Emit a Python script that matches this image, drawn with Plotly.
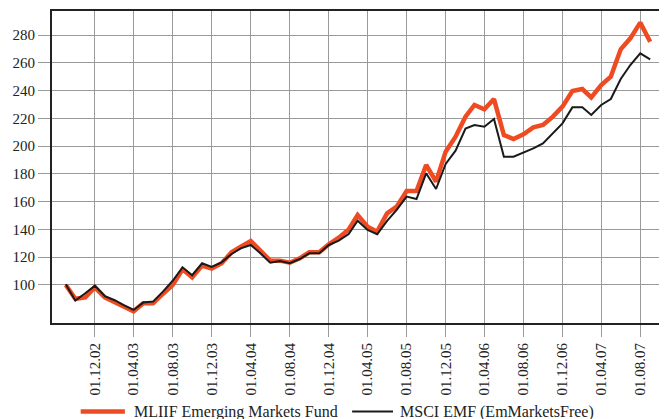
import pandas as pd
import plotly.graph_objects as go

# Monthly observations, Sep 2002 .. Sep 2007
dates = pd.date_range("2002-09-01", periods=61, freq="MS")

fund_name = "MLIIF Emerging Markets Fund"
index_name = "MSCI EMF (EmMarketsFree)"

fund_values = [
    100, 90, 91, 98.3, 91, 87.5, 84, 81, 86.8, 86.8,
    93.5, 100, 111.3, 105.5, 114, 111.8, 115.6, 123.5, 127.6, 131.7,
    124.7, 117.5, 117.5, 116, 119.2, 123.5, 123.5, 129.3, 134, 140,
    150.4, 142, 138.4, 151.6, 156.4, 167.7, 167.7, 186.4, 174.4, 196,
    206.8, 221.2, 229.6, 226.5, 233.9, 208, 205.1, 208.5, 213.5, 215.2,
    221.2, 228.4, 239.7, 241.1, 235.1, 244, 250, 269.7, 277.6, 288.9,
    275.2,
]

index_values = [
    100.5, 88.7, 94, 99.5, 92, 89, 85.5, 82, 87.3, 88,
    95, 103, 112.7, 107, 115.6, 113, 116.3, 122.3, 126.4, 128.8,
    122.8, 116, 117.3, 115.6, 118.7, 122.8, 122.8, 128.8, 131.9, 136.7,
    146.3, 139.6, 136.5, 146.1, 154, 163.6, 161.9, 180.4, 169.1, 187.1,
    196.7, 212.6, 215.2, 214, 219.5, 192.4, 192.4, 195.5, 198.4, 202,
    209.2, 216.4, 227.9, 227.9, 222.4, 229.6, 233.9, 248.3, 258.4, 266.8,
    262.5,
]

x_tick_dates = [
    "2002-12-01", "2003-04-01", "2003-08-01", "2003-12-01", "2004-04-01",
    "2004-08-01", "2004-12-01", "2005-04-01", "2005-08-01", "2005-12-01",
    "2006-04-01", "2006-08-01", "2006-12-01", "2007-04-01", "2007-08-01",
]
x_tick_labels = [
    "01.12.02", "01.04.03", "01.08.03", "01.12.03", "01.04.04",
    "01.08.04", "01.12.04", "01.04.05", "01.08.05", "01.12.05",
    "01.04.06", "01.08.06", "01.12.06", "01.04.07", "01.08.07",
]
y_ticks = [100, 120, 140, 160, 180, 200, 220, 240, 260, 280]

fund_color = "#EE4B22"
index_color = "#1a1a1a"
font_family = "Liberation Serif"
text_color = "#222"
grid_color = "#9a9a9a"

fig = go.Figure()
fig.add_trace(go.Scatter(
    x=dates, y=fund_values, name=fund_name, mode="lines",
    line=dict(color=fund_color, width=4.5), showlegend=False,
))
fig.add_trace(go.Scatter(
    x=dates, y=index_values, name=index_name, mode="lines",
    line=dict(color=index_color, width=2), showlegend=False,
))

# Legend drawn below the plot (line samples + labels)
legend_y = -0.284
legend_items = [
    (fund_name, fund_color, 4.5, 0.047, 0.1195, 0.1305),
    (index_name, index_color, 2, 0.492, 0.559, 0.567),
]
for label, color, width, x0, x1, xt in legend_items:
    fig.add_shape(type="line", xref="paper", yref="paper",
                  x0=x0, x1=x1, y0=legend_y, y1=legend_y,
                  line=dict(color=color, width=width))
    fig.add_annotation(xref="paper", yref="paper", x=xt, y=legend_y,
                       text=label, showarrow=False, xanchor="left",
                       yanchor="middle",
                       font=dict(family=font_family, size=16, color=text_color))

# The page body adds an 8px offset, so the figure is sized to compensate
fig.update_layout(
    width=659, height=411,
    margin=dict(l=44, r=5, t=3, b=96, autoexpand=False),
    paper_bgcolor="white", plot_bgcolor="white",
    font=dict(family=font_family, size=15, color=text_color),
    showlegend=False,
    xaxis=dict(
        type="date",
        range=["2002-07-20", "2007-10-08"],
        tickvals=x_tick_dates, ticktext=x_tick_labels,
        tickangle=-90, automargin=False,
        showgrid=True, gridcolor=grid_color, gridwidth=1,
        ticks="outside", ticklen=12, tickcolor=grid_color, tickwidth=1,
        showline=True, mirror=True, linecolor="#222", linewidth=2,
        zeroline=False,
        tickfont=dict(family=font_family, size=15, color=text_color),
    ),
    yaxis=dict(
        range=[72.6, 297.3],
        tickvals=y_ticks, automargin=False,
        showgrid=True, gridcolor=grid_color, gridwidth=1,
        ticks="outside", ticklen=12, tickcolor=grid_color, tickwidth=1,
        showline=True, mirror=True, linecolor="#222", linewidth=2,
        zeroline=False,
        tickfont=dict(family=font_family, size=15, color=text_color),
    ),
)

fig.write_html("out.html")
